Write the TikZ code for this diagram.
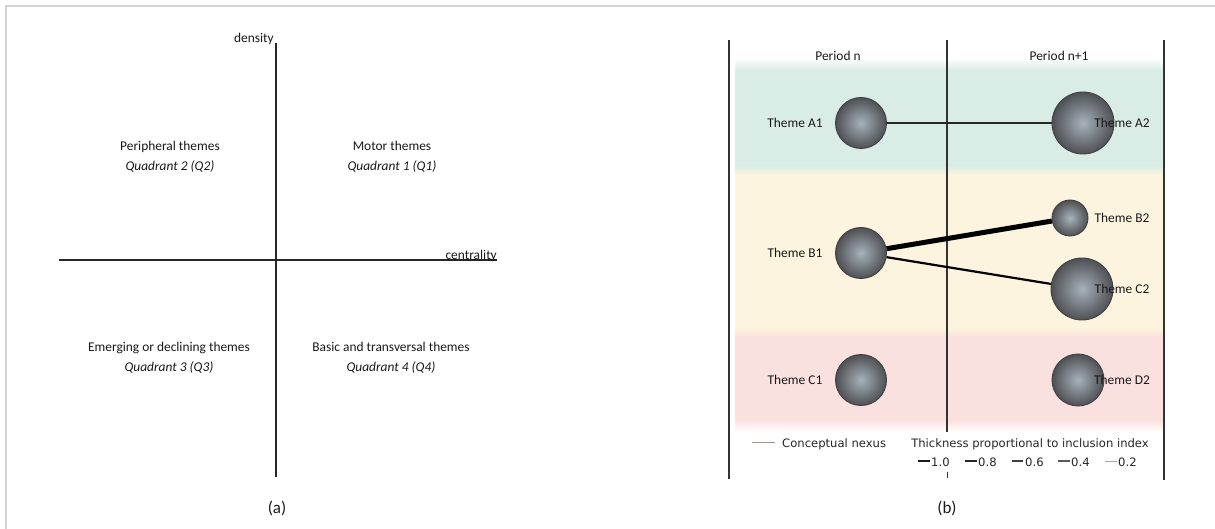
\documentclass[tikz,border=0pt]{standalone}
\usepackage{fontspec}
\setmainfont{Carlito}
\newfontfamily\legendfont{DejaVu Sans}
\definecolor{frameline}{RGB}{212,212,212}
\definecolor{tealband}{RGB}{218,236,230}
\definecolor{yellowband}{RGB}{252,244,222}
\definecolor{pinkband}{RGB}{250,224,222}
\definecolor{ballin}{RGB}{168,178,186}
\definecolor{ballout}{RGB}{78,80,84}
\definecolor{nexusgray}{RGB}{160,145,145}
\begin{document}
\begin{tikzpicture}[x=1pt,y=-1pt,
  txt/.style={font=\fontsize{13.4}{20}\selectfont, text=black!90, inner sep=0pt, align=center},
  caption/.style={font=\fontsize{17}{20}\selectfont, text=black!90, inner sep=0pt},
  legend/.style={font=\legendfont\fontsize{11.6}{14}\selectfont, text=black!85, inner sep=0pt},
  axis/.style={line width=1.3pt, draw=black!85},
  divider/.style={line width=1.2pt, draw=black!80},
  theme/.style={circle, draw=black!75, line width=0.9pt, shade, inner color=ballin, outer color=ballout, inner sep=0pt},
  nexus/.style={draw=black, line cap=round},
]
\useasboundingbox (0,0) rectangle (1215,529);
\fill[white] (0,0) rectangle (1215,529);
% outer frame
\draw[frameline, line width=1.5pt] (6,529) -- (6,6) -- (1215,6);

% ---------- panel (a): strategic diagram ----------
\coordinate (ytop) at (276,43);
\coordinate (ybot) at (276,477);
\coordinate (xleft) at (59,260);
\coordinate (xright) at (497,260);
\draw[axis] (ytop) -- (ybot);
\draw[axis] (xleft) -- (xright);
\node[txt, anchor=south east] (density) at (274,45) {density};
\node[txt, anchor=south east] (centrality) at (497,262) {centrality};
\node[txt] (q2) at (170,157) {Peripheral themes\\\textit{Quadrant 2 (Q2)}};
\node[txt] (q1) at (392,157) {Motor themes\\\textit{Quadrant 1 (Q1)}};
\node[txt] (q3) at (169,358) {Emerging or declining themes\\\textit{Quadrant 3 (Q3)}};
\node[txt] (q4) at (391,358) {Basic and transversal themes\\\textit{Quadrant 4 (Q4)}};
\node[caption] (capa) at (277,508) {(a)};

% ---------- panel (b): thematic evolution ----------
% coloured bands
\fill[tealband] (735,70) rectangle (1163,166);
\shade[top color=white, bottom color=tealband] (735,58) rectangle (1163,70.5);
\shade[top color=tealband, bottom color=yellowband] (735,165.5) rectangle (1163,175);
\fill[yellowband] (735,174.5) rectangle (1163,328);
\shade[top color=yellowband, bottom color=pinkband] (735,327.5) rectangle (1163,337);
\fill[pinkband] (735,336.5) rectangle (1163,420);
\shade[top color=pinkband, bottom color=white] (735,419.5) rectangle (1163,432);

% period dividers
\coordinate (lt) at (729,40);  \coordinate (lb) at (729,479);
\coordinate (mt) at (947,40);  \coordinate (mb) at (947,432);
\coordinate (rt) at (1164,40); \coordinate (rb) at (1164,480);
\coordinate (tickt) at (947,472); \coordinate (tickb) at (947,478);
\draw[divider] (lt) -- (lb);
\draw[divider] (mt) -- (mb);
\draw[divider] (rt) -- (rb);
\draw[divider, line width=0.9pt] (tickt) -- (tickb);

\node[txt] (pn) at (838,56) {Period n};
\node[txt] (pn1) at (1059,56) {Period n+1};

% themes
\node[theme, minimum size=51pt] (A1) at (861,123) {};
\node[theme, minimum size=51pt] (B1) at (861,253) {};
\node[theme, minimum size=51pt] (C1) at (861,380) {};
\node[theme, minimum size=62pt] (A2) at (1083,123) {};
\node[theme, minimum size=36pt] (B2) at (1070,218) {};
\node[theme, minimum size=62pt] (C2) at (1082,289) {};
\node[theme, minimum size=52pt] (D2) at (1078,380) {};

% conceptual nexus
\draw[nexus, line width=1.2pt, draw=black!85] (A1) -- (A2);
\draw[nexus, line width=5pt, line cap=butt] (B1) -- (B2);
\draw[nexus, line width=2.2pt, line cap=butt] (B1) -- (C2);

% theme labels
\node[txt] (lA1) at (795,123) {Theme A1};
\node[txt] (lB1) at (795,253) {Theme B1};
\node[txt] (lC1) at (795,380) {Theme C1};
\node[txt] (lA2) at (1122,123) {Theme A2};
\node[txt] (lB2) at (1122,218) {Theme B2};
\node[txt] (lC2) at (1122,289) {Theme C2};
\node[txt] (lD2) at (1122,380) {Theme D2};

% legend
\coordinate (nexa) at (752,442);
\coordinate (nexb) at (775,442);
\draw[nexusgray, line width=0.8pt] (nexa) -- (nexb);
\node[legend, anchor=west] (lgnexus) at (782,444) {Conceptual nexus};
\node[legend] (lgthick) at (1030,444) {Thickness proportional to inclusion index};

\coordinate (d1a) at (918,461); \coordinate (d1b) at (930,461);
\coordinate (d2a) at (965,461); \coordinate (d2b) at (977,461);
\coordinate (d3a) at (1012,461); \coordinate (d3b) at (1023,461);
\coordinate (d4a) at (1058,461); \coordinate (d4b) at (1070,461);
\coordinate (d5a) at (1105,461); \coordinate (d5b) at (1117,461);
\draw[black!90, line width=2.6pt] (d1a) -- (d1b);
\draw[black!85, line width=2pt] (d2a) -- (d2b);
\draw[black!75, line width=1.5pt] (d3a) -- (d3b);
\draw[black!65, line width=1.1pt] (d4a) -- (d4b);
\draw[black!35, line width=0.7pt] (d5a) -- (d5b);
\node[legend, anchor=west] (v1) at (931,462) {1.0};
\node[legend, anchor=west] (v2) at (978,462) {0.8};
\node[legend, anchor=west] (v3) at (1025,462) {0.6};
\node[legend, anchor=west] (v4) at (1071,462) {0.4};
\node[legend, anchor=west] (v5) at (1118,462) {0.2};

\node[caption] (capb) at (947,508) {(b)};
\end{tikzpicture}
\end{document}
